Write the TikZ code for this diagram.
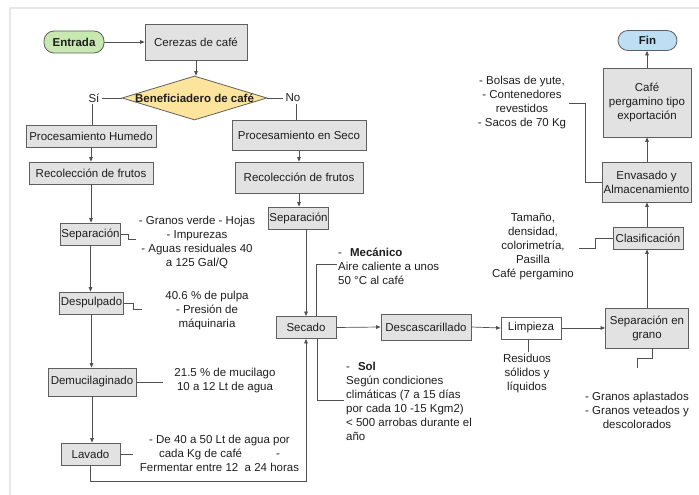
\documentclass[tikz,border=0pt]{standalone}
\usepackage{fontspec}
\setmainfont{Liberation Sans}
\usetikzlibrary{shapes.geometric,arrows.meta}
\definecolor{boxfill}{RGB}{226,226,226}
\definecolor{boxline}{RGB}{95,95,95}
\definecolor{linec}{RGB}{80,80,80}
\definecolor{startfill}{RGB}{200,232,178}
\definecolor{endfill}{RGB}{190,222,243}
\definecolor{diafill}{RGB}{253,228,156}
\definecolor{txtc}{RGB}{30,30,30}
\begin{document}
\begin{tikzpicture}[x=1pt,y=-1pt,
  font=\fontsize{11.5}{14}\selectfont, text=txtc,
  stepbox/.style={draw=boxline, fill=boxfill, line width=0.8pt, inner sep=1pt, align=center},
  term/.style={draw=boxline, line width=0.8pt, rounded corners=10pt, inner sep=1pt, font=\fontsize{11.5}{14}\selectfont\bfseries},
  note/.style={inner sep=0pt, align=center},
  lnk/.style={draw=linec, line width=0.7pt},
  arr/.style={lnk, -{Triangle[length=4.5pt,width=3.6pt]}}
]
\useasboundingbox (0,0) rectangle (699,495);
\draw[gray!18, line width=1.5pt] (10,495) -- (10,8) -- (699,8);

% terminals
\node[term, fill=startfill, minimum width=60pt, minimum height=22pt] (entrada) at (74,42) {Entrada};
\node[term, fill=endfill, minimum width=59pt, minimum height=20pt] (fin) at (647.5,40.5) {Fin};

% top
\node[stepbox, minimum width=102pt, minimum height=36pt] (cerezas) at (196,42) {Cerezas de café};
\node[diamond, draw=boxline, fill=diafill, line width=0.8pt, minimum width=145pt, minimum height=44pt, inner sep=0pt] (dia) at (194.5,98) {};
\node[inner sep=0pt, font=\fontsize{11.5}{14}\selectfont\bfseries] (diatxt) at (194.5,98) {Beneficiadero de café};
\node[inner sep=2pt] (si) at (94,98) {Sí};
\node[inner sep=2pt] (no) at (293,98) {No};

% left column
\node[stepbox, minimum width=130pt, minimum height=22pt] (hum) at (91,136) {Procesamiento Humedo};
\node[stepbox, minimum width=124pt, minimum height=22pt] (rec1) at (91,173) {Recolección de frutos};
\node[stepbox, minimum width=59pt, minimum height=22pt] (sep1) at (90.5,234) {Separación};
\node[stepbox, minimum width=61pt, minimum height=22pt] (desp) at (91.5,303) {Despulpado};
\node[stepbox, minimum width=88pt, minimum height=28pt] (demu) at (92,382) {Demucilaginado};
\node[stepbox, minimum width=59pt, minimum height=22pt] (lav) at (90.5,454) {Lavado};

% middle column
\node[stepbox, minimum width=134pt, minimum height=30pt] (seco) at (299,135.5) {Procesamiento en Seco};
\node[stepbox, minimum width=128pt, minimum height=31pt] (rec2) at (299,177.5) {Recolección de frutos};
\node[stepbox, minimum width=59pt, minimum height=22pt] (sep2) at (298.5,218) {Separación};
\node[stepbox, minimum width=60pt, minimum height=22pt] (secado) at (306,327.5) {Secado};
\node[stepbox, minimum width=90pt, minimum height=26pt] (desc) at (426,327) {Descascarillado};
\node[stepbox, fill=white, minimum width=60pt, minimum height=22pt] (limp) at (531,328) {Limpieza};

% right column
\node[stepbox, minimum width=83pt, minimum height=40pt] (sepg) at (647,328) {Separación en\\grano};
\node[stepbox, minimum width=70pt, minimum height=22pt] (clas) at (648,238) {Clasificación};
\node[stepbox, minimum width=89pt, minimum height=40pt] (env) at (646.5,182) {Envasado y\\Almacenamiento};
\node[stepbox, minimum width=88pt, minimum height=69pt] (cafe) at (647,102.5) {Café\\pergamino tipo\\exportación};

% notes
\node[note] (t1) at (197,242.5) {- Granos verde - Hojas\\- Impurezas\\- Aguas residuales 40\\a 125 Gal/Q};
\node[note] (t2) at (207,310.5) {40.6 \% de pulpa\\- Presión de\\máquinaria};
\node[note] (t3) at (225,381) {21.5 \% de mucilago\\10 a 12 Lt de agua};
\node[note] (t4) at (219.5,453.5) {- De 40 a 50 Lt de agua por\\cada Kg de café\hspace{34pt}-\\Fermentar entre 12\ \ a 24 horas};
\node[note, align=left, anchor=west] (mec) at (338,266.5) {-\hspace{8pt}\textbf{Mecánico}\\Aire caliente a unos\\50 °C al café};
\node[note, align=left, anchor=west] (sol) at (346,401.5) {-\hspace{8pt}\textbf{Sol}\\Según condiciones\\climáticas (7 a 15 días\\por cada 10 -15 Kgm2)\\< 500 arrobas durante el\\año};
\node[note] (res) at (527,374) {Residuos\\sólidos y\\líquidos};
\node[note] (gra) at (637,410.5) {- Granos aplastados\\- Granos veteados y\\descolorados};
\node[note] (tam) at (533,247) {Tamaño,\\densidad,\\colorimetría,\\Pasilla\\Café pergamino};
\node[note] (bol) at (522,102.5) {- Bolsas de yute,\\- Contenedores\\revestidos\\- Sacos de 70 Kg};

% connector anchors
\coordinate (t1a) at (136,239);
\coordinate (t2a) at (142,309);
\coordinate (t3a) at (163,382);
\coordinate (t4a) at (133,454);
\coordinate (bot) at (306,481);
\coordinate (meca) at (337,264);
\coordinate (sola) at (344,400);
\coordinate (resa) at (528,352);
\coordinate (g1) at (637,358);
\coordinate (g2) at (637,368);
\coordinate (tama) at (579,248);
\coordinate (bola) at (569,103);

% main flow
\draw[arr] (entrada.east) -- (cerezas.west);
\draw[arr] (cerezas.south) -- (cerezas.south |- dia.north);
\draw[lnk] (dia.west) -- (si.east);
\draw[lnk] ([xshift=-2pt]si.south) -- ([xshift=-2pt]si.south |- hum.north);
\draw[lnk] (dia.east) -- (no.west);
\draw[lnk] ([xshift=3pt]no.south) -- ([xshift=3pt]no.south |- seco.north);

\draw[arr] (hum.south) -- (hum.south |- rec1.north);
\draw[arr] (rec1.south) -- (rec1.south |- sep1.north);
\draw[arr] (sep1.south) -- (sep1.south |- desp.north);
\draw[arr] (desp.south) -- (desp.south |- demu.north);
\draw[arr] (demu.south) -- (demu.south |- lav.north);
\draw[arr] (lav.south) |- (bot) -- (secado.south);

\draw[arr] (seco.south) -- (seco.south |- rec2.north);
\draw[arr] (rec2.south) -- (rec2.south |- sep2.north);
\draw[arr] (secado.north |- sep2.south) -- (secado.north);
\draw[arr] (secado.east) -- (desc.west);
\draw[arr] (desc.east) -- (limp.west);
\draw[arr] (limp.east) -- (sepg.west);
\draw[arr] (sepg.north) -- (sepg.north |- clas.south);
\draw[arr] (sepg.north |- clas.north) -- (sepg.north |- env.south);
\draw[arr] (sepg.north |- env.north) -- (sepg.north |- cafe.south);
\draw[arr] (sepg.north |- cafe.north) -- (sepg.north |- fin.south);

% note connectors
\draw[lnk] (sep1.east) -- ++(7,0) |- (t1a);
\draw[lnk] (desp.east) -- ++(10,0) |- (t2a);
\draw[lnk] (demu.east) -- (t3a);
\draw[lnk] (lav.east) -- (t4a);
\draw[lnk] ([xshift=10pt]secado.north) |- (meca);
\draw[lnk] ([xshift=11pt]secado.south) |- (sola);
\draw[lnk] (resa |- limp.south) -- (resa);
\draw[lnk] ([xshift=5pt]sepg.south) |- (g1) -- (g2);
\draw[lnk] (clas.west) -- ++(-17,0) |- (tama);
\draw[lnk] (bola) -- ++(16,0) |- (env.west);
\end{tikzpicture}
\end{document}
